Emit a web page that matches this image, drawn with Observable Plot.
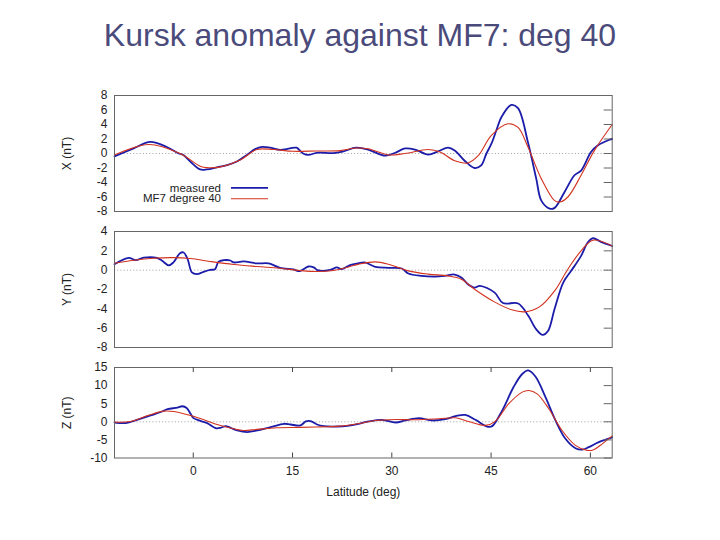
<!DOCTYPE html>
<html><head><meta charset="utf-8">
<script src="https://cdn.jsdelivr.net/npm/d3@7"></script>
<script src="https://cdn.jsdelivr.net/npm/@observablehq/plot@0.6"></script>
<style>
body{margin:0;background:#fff;}
#wrap{position:relative;width:720px;height:540px;overflow:hidden;font-family:"Liberation Sans",Arial,sans-serif;background:#fff;}
#title{position:absolute;left:0;top:18px;width:720px;text-align:center;font-size:32px;line-height:1.117;color:#4b4b7b;white-space:nowrap;}
.panel{position:absolute;left:0;}
#legend{position:absolute;left:0;top:0;}
</style></head>
<body><div id="wrap"><div id="title">Kursk anomaly against MF7: deg 40</div></div>
<script>
// ---- data (latitude in deg, field in nT) ----
const latTicks = [0, 15, 30, 45, 60];
const xTicks = [-8, -6, -4, -2, 0, 2, 4, 6, 8];
const yTicks = [-8, -6, -4, -2, 0, 2, 4];
const zTicks = [-10, -5, 0, 5, 10, 15];
const seriesNames = ["measured", "MF7 degree 40"];

const xMeasured = [[-11.9,-0.4],[-9.0,0.7],[-6.5,1.6],[-4.0,0.9],[-2.2,0.0],[-1.5,-0.2],[-0.45,-1.1],[1.05,-2.2],[2.05,-2.2],[3.6,-1.9],[5.1,-1.6],[6.6,-1.1],[8.1,-0.2],[9.35,0.6],[10.4,0.9],[11.6,0.8],[13.1,0.5],[14.6,0.7],[15.6,0.8],[16.6,0.0],[17.4,-0.2],[18.65,0.1],[21.2,0.05],[22.7,0.3],[24.6,0.8],[26.4,0.55],[29.0,-0.3],[30.5,0.1],[32.0,0.7],[33.5,0.55],[35.5,-0.15],[37.0,0.3],[38.5,0.8],[39.5,0.4],[41.0,-1.0],[42.5,-2.0],[43.5,-1.65],[44.3,0.0],[45.05,1.35],[45.8,3.2],[46.55,5.0],[48.06,6.7],[49.07,6.25],[50.57,1.55],[51.83,-3.5],[52.59,-6.5],[53.84,-7.6],[54.6,-7.5],[56.1,-5.3],[57.6,-3.0],[58.6,-2.35],[60.1,0.2],[61.1,1.1],[62.9,1.9],[63.3,2.0]];
const xModel = [[-11.9,-0.2],[-6.7,1.25],[-2.0,0.0],[1.05,-1.75],[2.05,-1.95],[4.1,-1.85],[7.1,-0.9],[9.6,0.55],[12.1,0.55],[15.1,0.3],[18.65,0.35],[22.2,0.4],[24.6,0.75],[26.4,0.65],[29.5,-0.2],[32.0,0.0],[35.5,0.55],[37.3,0.2],[39.5,-1.0],[41.5,-1.3],[43.05,-0.3],[45.05,2.5],[47.56,4.1],[49.07,3.6],[50.57,0.9],[52.6,-3.5],[54.6,-6.5],[55.35,-6.7],[56.6,-6.0],[58.6,-3.0],[60.6,0.4],[63.3,4.0]];

const yMeasured = [[-11.9,0.62],[-9.75,1.28],[-8.7,1.03],[-7.5,1.3],[-5.5,1.28],[-4.7,0.97],[-3.7,0.5],[-3.0,0.8],[-2.0,1.76],[-1.45,1.83],[-0.85,1.14],[-0.2,-0.24],[0.55,-0.41],[1.55,-0.17],[2.55,0.03],[3.3,0.1],[3.8,0.86],[4.6,1.03],[5.6,1.0],[6.1,0.8],[7.6,0.9],[9.6,0.7],[11.4,0.7],[13.1,0.24],[15.1,0.07],[16.1,-0.1],[17.4,0.38],[18.2,0.28],[18.9,-0.03],[20.7,0.03],[21.7,0.28],[22.4,0.1],[23.7,0.52],[24.9,0.7],[25.9,0.8],[27.5,0.34],[29.5,0.24],[31.5,0.17],[32.5,-0.34],[34.5,-0.59],[36.5,-0.66],[38.0,-0.59],[39.5,-0.45],[40.5,-0.76],[41.5,-1.45],[42.5,-1.8],[43.3,-1.62],[45.5,-2.3],[46.8,-3.4],[49.1,-3.45],[50.6,-4.7],[51.8,-6.1],[52.8,-6.7],[53.6,-6.3],[54.6,-4.0],[55.9,-1.28],[57.1,-0.07],[58.6,1.48],[59.6,2.86],[60.4,3.3],[61.6,2.93],[63.3,2.5]];
const yModel = [[-11.9,0.72],[-9.0,1.03],[-6.0,1.24],[-3.0,1.3],[-0.45,1.2],[2.55,0.9],[6.1,0.59],[9.6,0.38],[13.1,0.2],[16.1,-0.03],[18.7,-0.14],[21.2,-0.03],[23.7,0.38],[24.9,0.6],[27.5,0.86],[29.5,0.62],[32.5,-0.07],[35.5,-0.41],[38.5,-0.59],[40.5,-0.93],[42.5,-1.97],[45.5,-3.28],[48.1,-4.1],[50.1,-4.31],[52.3,-3.8],[54.6,-2.14],[56.6,0.1],[58.6,2.0],[60.4,3.1],[63.3,2.5]];

const zMeasured = [[-11.9,-0.2],[-10.0,-0.3],[-8.5,0.55],[-6.45,1.75],[-4.9,2.7],[-3.9,3.5],[-2.4,3.9],[-1.66,4.3],[-1.0,3.8],[-0.4,2.2],[0.0,1.1],[0.86,0.37],[2.1,-0.37],[3.37,-1.75],[4.13,-1.65],[4.88,-1.2],[5.64,-1.65],[6.65,-2.4],[8.16,-2.85],[9.67,-2.4],[11.68,-1.5],[13.7,-0.55],[14.7,-0.75],[16.2,-1.0],[17.0,0.1],[17.7,0.2],[18.7,-0.75],[19.7,-1.2],[21.8,-1.3],[23.3,-1.1],[25.0,-0.55],[26.5,0.1],[28.5,0.55],[30.56,-0.2],[32.07,0.37],[34.08,1.0],[36.1,0.37],[38.1,0.75],[39.62,1.55],[41.1,1.9],[42.64,0.55],[44.4,-1.3],[45.16,-1.2],[46.67,3.1],[48.4,9.6],[49.7,13.2],[50.6,14.2],[51.7,12.5],[53.22,6.8],[54.73,0.37],[56.24,-4.7],[57.75,-7.3],[58.76,-7.7],[59.76,-7.0],[61.27,-5.6],[63.3,-4.3]];
const zModel = [[-11.9,-0.1],[-9.5,0.1],[-7.0,1.65],[-4.5,2.95],[-3.0,2.85],[-1.0,2.0],[1.05,0.9],[3.6,-0.75],[6.1,-1.93],[7.6,-2.4],[9.6,-2.1],[12.6,-1.65],[16.1,-1.55],[19.2,-1.4],[22.2,-1.2],[24.9,-0.55],[27.5,0.37],[30.56,0.65],[33.6,0.55],[37.1,0.83],[39.62,1.1],[41.6,0.1],[44.16,-1.0],[45.67,0.2],[47.68,5.0],[49.7,8.2],[50.7,8.65],[51.96,7.7],[53.72,3.6],[55.73,-2.4],[57.75,-6.5],[59.5,-7.9],[60.5,-7.7],[61.8,-6.1],[63.3,-3.9]];

// ---- styling ----
const BLUE = "#1c1caa", RED = "#d2321e";
const W = 720, ML = 114, MR = 108.3;
const plotW = W - ML - MR;
const LAT_DOMAIN = [-11.9, 63.3];
const wrap = document.getElementById("wrap");

function panel({top, height, mt, mb, domain, ticks, label, meas, model, bottom}) {
  const plotH = height - mt - mb;
  const marks = [
    Plot.ruleY([0], {stroke: "#9a9a9a", strokeWidth: 0.8, strokeDasharray: "1.2,2"}),
    Plot.line(meas, {x: d => d[0], y: d => d[1], stroke: BLUE, strokeWidth: 1.8, curve: "catmull-rom"}),
    Plot.line(model, {x: d => d[0], y: d => d[1], stroke: RED, strokeWidth: 1.1, curve: "catmull-rom"}),
    Plot.frame({stroke: "#666", strokeWidth: 1}),
    Plot.tickY(ticks, {y: d => d, insetLeft: plotW - 8, stroke: "#666"}),
    Plot.axisY(ticks, {anchor: "left", tickSize: 0, tickPadding: 7, tickFormat: d => String(d),
      label, labelAnchor: "center", labelOffset: 52, labelArrow: "none", fontSize: 12})
  ];
  if (bottom) {
    marks.push(
      Plot.tickX(latTicks, {x: d => d, insetBottom: plotH - 5, stroke: "#444"}),
      Plot.tickX(latTicks, {x: d => d, insetTop: plotH - 5, stroke: "#444"}),
      Plot.axisX(latTicks, {anchor: "bottom", tickSize: 0, tickPadding: 8, tickFormat: d => String(d),
        label: "Latitude (deg)", labelAnchor: "center", labelOffset: 38, labelArrow: "none", fontSize: 12})
    );
  }
  const svg = Plot.plot({
    width: W, height, marginLeft: ML, marginRight: MR, marginTop: mt, marginBottom: mb,
    x: {domain: LAT_DOMAIN, axis: bottom ? undefined : null},
    y: {domain},
    marks,
    style: {fontFamily: "'Liberation Sans', Arial, sans-serif", fontSize: "12px", color: "#222", background: "transparent", overflow: "visible"}
  });
  svg.classList.add("panel");
  svg.style.top = top + "px";
  wrap.appendChild(svg);
}

panel({top: 85, height: 132, mt: 10, mb: 6, domain: [-8, 8], ticks: xTicks, label: "X (nT)", meas: xMeasured, model: xModel});
panel({top: 221, height: 132, mt: 10, mb: 6, domain: [-8, 4], ticks: yTicks, label: "Y (nT)", meas: yMeasured, model: yModel});
panel({top: 357, height: 146, mt: 10, mb: 45.5, domain: [-10, 15], ticks: zTicks, label: "Z (nT)", meas: zMeasured, model: zModel, bottom: true});

// legend (inside the X panel)
const ns = "http://www.w3.org/2000/svg";
const leg = document.createElementNS(ns, "svg");
leg.setAttribute("id", "legend");
leg.setAttribute("width", 720); leg.setAttribute("height", 540);
leg.style.fontFamily = "'Liberation Sans', Arial, sans-serif";
const rows = [{name: seriesNames[0], color: BLUE, w: 1.8, base: 191.5, ly: 187.8},
              {name: seriesNames[1], color: RED, w: 1.1, base: 202, ly: 198.8}];
for (const r of rows) {
  const t = document.createElementNS(ns, "text");
  t.setAttribute("x", 221); t.setAttribute("y", r.base);
  t.setAttribute("text-anchor", "end"); t.setAttribute("font-size", "11.5px"); t.setAttribute("fill", "#222");
  t.textContent = r.name; leg.appendChild(t);
  const l = document.createElementNS(ns, "line");
  l.setAttribute("x1", 231); l.setAttribute("x2", 268); l.setAttribute("y1", r.ly); l.setAttribute("y2", r.ly);
  l.setAttribute("stroke", r.color); l.setAttribute("stroke-width", r.w);
  leg.appendChild(l);
}
wrap.appendChild(leg);
</script>
</body></html>
